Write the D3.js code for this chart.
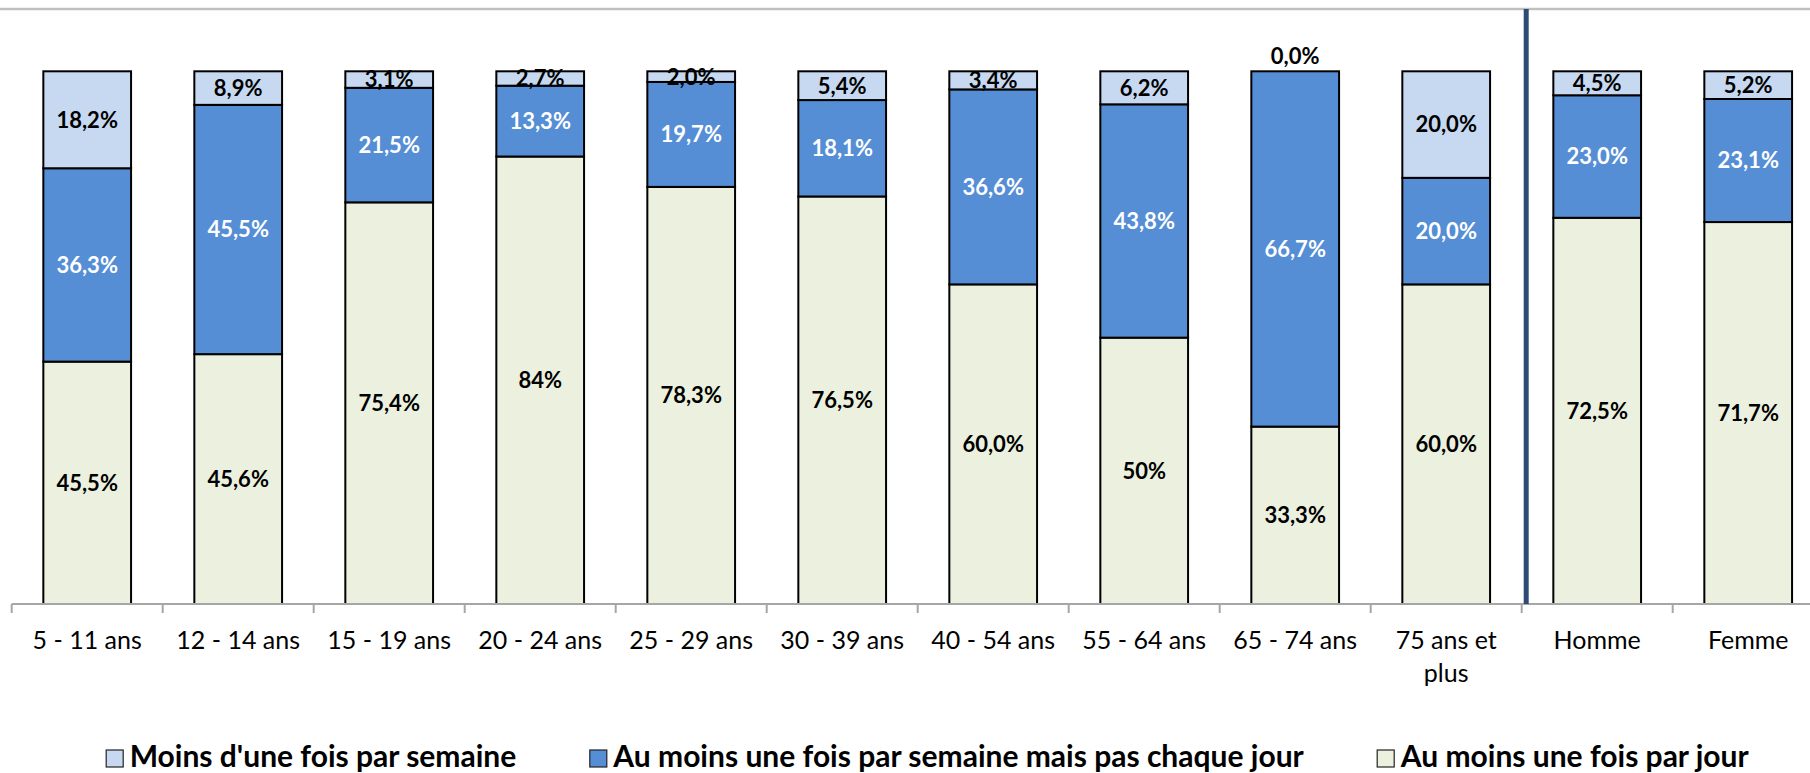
<!DOCTYPE html>
<html>
<head>
<meta charset="utf-8">
<script src="https://cdn.jsdelivr.net/npm/d3@7"></script>
<style>
  body { margin: 0; background: #fff; }
  svg { display: block; font-family: Lato, "Open Sans", sans-serif; }
</style>
</head>
<body>
<script>
var categories = ["5 - 11 ans", "12 - 14 ans", "15 - 19 ans", "20 - 24 ans", "25 - 29 ans", "30 - 39 ans",
                  "40 - 54 ans", "55 - 64 ans", "65 - 74 ans", "75 ans et plus", "Homme", "Femme"];

// series, bottom to top (segment heights as drawn; 12 - 14 ans is drawn off its printed labels)
var parJour      = [45.5, 46.9, 75.4, 84.0, 78.3, 76.5, 60.0, 50.0, 33.3, 60.0, 72.5, 71.7];
var parSemaine   = [36.3, 46.8, 21.5, 13.3, 19.7, 18.1, 36.6, 43.8, 66.7, 20.0, 23.0, 23.1];
var moinsSemaine = [18.2, 6.3, 3.1, 2.7, 2.0, 5.4, 3.4, 6.2, 0.0, 20.0, 4.5, 5.2];

// labels as printed on the chart
var labelsJour    = ["45,5%", "45,6%", "75,4%", "84%", "78,3%", "76,5%", "60,0%", "50%", "33,3%", "60,0%", "72,5%", "71,7%"];
var labelsSemaine = ["36,3%", "45,5%", "21,5%", "13,3%", "19,7%", "18,1%", "36,6%", "43,8%", "66,7%", "20,0%", "23,0%", "23,1%"];
var labelsMoins   = ["18,2%", "8,9%", "3,1%", "2,7%", "2,0%", "5,4%", "3,4%", "6,2%", "0,0%", "20,0%", "4,5%", "5,2%"];

var seriesNames = ["Moins d'une fois par semaine", "Au moins une fois par semaine mais pas chaque jour", "Au moins une fois par jour"];

var W = 1810, H = 773;
var colors = { jour: "#EBF1DE", semaine: "#558ED5", moins: "#C6D9F1" };
var labelColors = { jour: "#000", semaine: "#fff", moins: "#000" };

var rows = categories.map(function(c, i) {
  return { cat: c, jour: parJour[i], semaine: parSemaine[i], moins: moinsSemaine[i],
           lab: { jour: labelsJour[i], semaine: labelsSemaine[i], moins: labelsMoins[i] } };
});

var svg = d3.select("body").append("svg").attr("width", W).attr("height", H);

// top frame line
svg.append("line").attr("x1", 0).attr("x2", W).attr("y1", 9).attr("y2", 9)
  .attr("stroke", "#BFBFBF").attr("stroke-width", 2.5);

var x0 = 11.7, step = 151;
var x = d3.scaleBand().domain(categories)
  .range([x0, x0 + step * categories.length])
  .paddingInner(0.419).paddingOuter(0.2095);
var y = d3.scaleLinear().domain([0, 100]).range([604, 71.3]);

var keys = ["jour", "semaine", "moins"];
var stack = d3.stack().keys(keys)(rows);

var g = svg.append("g");
var layers = g.selectAll("g.layer").data(stack).enter().append("g").attr("class", "layer");

layers.selectAll("rect").data(function(d) { return d.map(function(p) { return { p: p, key: d.key }; }); })
  .enter().append("rect")
  .attr("x", function(d) { return x(d.p.data.cat); })
  .attr("y", function(d) { return y(d.p[1]); })
  .attr("width", x.bandwidth())
  .attr("height", function(d) { return y(d.p[0]) - y(d.p[1]); })
  .attr("fill", function(d) { return colors[d.key]; })
  .attr("stroke", "#000").attr("stroke-width", 2)
  .style("display", function(d) { return d.p[1] - d.p[0] > 0 ? null : "none"; });

// data labels
layers.selectAll("text").data(function(d) { return d.map(function(p) { return { p: p, key: d.key }; }); })
  .enter().append("text")
  .attr("x", function(d) { return x(d.p.data.cat) + x.bandwidth() / 2; })
  .attr("y", function(d) {
    var h = d.p[1] - d.p[0];
    if (h <= 0) return y(d.p[1]) - 7;
    return (y(d.p[0]) + y(d.p[1])) / 2;
  })
  .attr("dy", function(d) { return d.p[1] - d.p[0] <= 0 ? 0 : "0.36em"; })
  .attr("text-anchor", "middle")
  .attr("font-size", 22).attr("font-weight", "bold")
  .attr("fill", function(d) { return d.p[1] - d.p[0] <= 0 ? "#000" : labelColors[d.key]; })
  .text(function(d) { return d.p.data.lab[d.key]; });

// category axis
var axisY = y(0);
svg.append("line").attr("x1", x0).attr("x2", W).attr("y1", axisY).attr("y2", axisY)
  .attr("stroke", "#A6A6A6").attr("stroke-width", 2);
var bounds = d3.range(categories.length + 1).map(function(i) { return x0 + i * x.step(); });
svg.selectAll("line.tick").data(bounds).enter().append("line").attr("class", "tick")
  .attr("x1", function(d) { return d; }).attr("x2", function(d) { return d; })
  .attr("y1", axisY).attr("y2", axisY + 9)
  .attr("stroke", "#A6A6A6").attr("stroke-width", 2);

var catLabels = svg.selectAll("text.cat").data(categories).enter().append("text").attr("class", "cat")
  .attr("x", function(d) { return x(d) + x.bandwidth() / 2; })
  .attr("y", 649)
  .attr("text-anchor", "middle").attr("font-size", 25).attr("fill", "#000");

catLabels.each(function(d) {
  var t = d3.select(this), words = d.split(" "), line = [];
  var tspan = t.append("tspan").attr("x", t.attr("x")).attr("dy", 0);
  words.forEach(function(w) {
    line.push(w);
    tspan.text(line.join(" "));
    if (tspan.node().getComputedTextLength() > x.step() - 8 && line.length > 1) {
      line.pop();
      tspan.text(line.join(" "));
      line = [w];
      tspan = t.append("tspan").attr("x", t.attr("x")).attr("dy", 32.5).text(w);
    }
  });
});

// separator between age groups and gender
var sepX = x0 + 10 * x.step() + 4.5;
svg.append("line").attr("x1", sepX).attr("x2", sepX).attr("y1", 9).attr("y2", axisY)
  .attr("stroke", "#2D4B73").attr("stroke-width", 5);

// legend
var legendX = [105.7, 589.3, 1376.7];
var legendKeys = ["moins", "semaine", "jour"];
var leg = svg.selectAll("g.leg").data(seriesNames).enter().append("g").attr("class", "leg")
  .attr("transform", function(d, i) { return "translate(" + legendX[i] + ",0)"; });
leg.append("rect").attr("x", 0.5).attr("y", 750).attr("width", 17).attr("height", 17)
  .attr("fill", function(d, i) { return colors[legendKeys[i]]; })
  .attr("stroke", "#222").attr("stroke-width", 1.2);
leg.append("text").attr("x", 24).attr("y", 767)
  .attr("font-size", 30).attr("font-weight", "bold").attr("fill", "#000")
  .text(function(d) { return d; });
</script>
</body>
</html>
